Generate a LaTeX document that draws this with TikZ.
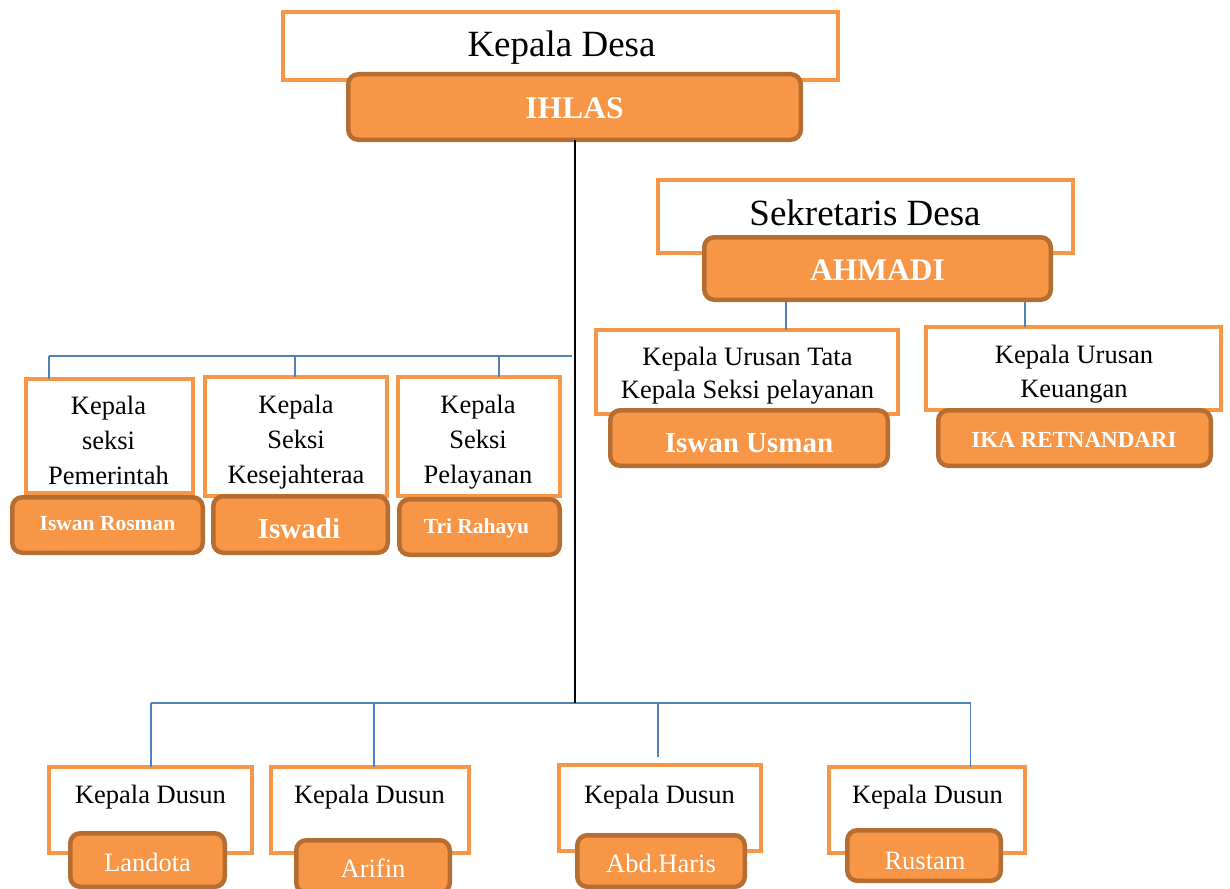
\documentclass[tikz,border=0pt]{standalone}
\usepackage{fontspec}
\setmainfont{Liberation Serif}
\usetikzlibrary{positioning,calc}
\definecolor{oranyemuda}{RGB}{247,150,70}
\definecolor{cokelat}{RGB}{182,109,49}
\definecolor{birugaris}{RGB}{79,129,189}
\newcommand{\ukuran}[2]{\fontsize{#1}{#2}\selectfont}
\newcommand{\jabatan}[4]{\node[kotakjabatan,minimum width=#3pt,minimum height=#4pt] (#1) at (#2) {};}
\newcommand{\pejabat}[4]{\node[kotaknama,minimum width=#3pt,minimum height=#4pt] (#1) at (#2) {};}
\tikzset{
  kotakjabatan/.style={draw=oranyemuda,line width=4pt,fill=white,inner sep=0pt,outer sep=0pt},
  kotaknama/.style={draw=cokelat,line width=4.5pt,fill=oranyemuda,rounded corners=10pt,inner sep=0pt,outer sep=0pt},
  teksjabatan/.style={anchor=base,align=center,text=black,inner sep=0pt},
  teksnama/.style={anchor=base,text=white,inner sep=0pt},
  garisbiru/.style={draw=birugaris,line width=1.3pt},
  garishitam/.style={draw=black,line width=2pt},
}

\begin{document}
\begin{tikzpicture}[x=1pt,y=-1pt]
\clip (0,0) rectangle (1230,888);
% kotak jabatan
\jabatan{kades}{560.5,46}{555}{68}
\jabatan{sekdes}{865.5,216.5}{415}{73}
\jabatan{kaur1}{747,372}{302}{84}
\jabatan{kaur2}{1073.5,368.5}{295}{83}
\jabatan{kasi1}{109.5,436}{167}{114}
\jabatan{kasi2}{296,436.5}{182}{119}
\jabatan{kasi3}{479,436.5}{162}{119}
\jabatan{dusun1}{150.5,810}{203}{86}
\jabatan{dusun2}{370,810}{198}{86}
\jabatan{dusun3}{660,808}{202}{86}
\jabatan{dusun4}{927,810}{196}{86}
% garis
\coordinate (busbawah) at (574.5,703);
\coordinate (bb1) at (151,703);
\coordinate (bb2) at (374,703);
\coordinate (bb3) at (658,703);
\coordinate (bb4) at (970.5,703);
\coordinate (ujung3) at (658,757);
\coordinate (bk0) at (572,356);
\coordinate (bk1) at (49,356);
\coordinate (bk2) at (295,356);
\coordinate (bk3) at (499,356);
\coordinate (sk1) at (786,302);
\coordinate (sk2) at (1025,302);
\draw[garisbiru] (bb1) -- (bb4);
\draw[garisbiru] (bb1) -- (bb1 |- dusun1.north);
\draw[garisbiru] (bb2) -- (bb2 |- dusun2.north);
\draw[garisbiru] (bb3) -- (ujung3);
\draw[garisbiru] (bb4) -- (bb4 |- dusun4.north);
\draw[garisbiru] (bk1) -- (bk0);
\draw[garisbiru] (bk1) -- (bk1 |- kasi1.north);
\draw[garisbiru] (bk2) -- (bk2 |- kasi2.north);
\draw[garisbiru] (bk3) -- (bk3 |- kasi3.north);
\draw[garisbiru] (sk1) -- (sk1 |- kaur1.north);
\draw[garisbiru] (sk2) -- (sk2 |- kaur2.north);
% teks jabatan
\node[teksjabatan,font=\ukuran{37}{44}] (kades-t) at (561.5,57) {Kepala Desa};
\node[teksjabatan,font=\ukuran{37}{44}] (sekdes-t) at (865,225) {Sekretaris Desa};
\node[teksjabatan,font=\ukuran{26.5}{33}] (kaur1-t) at (747.5,398) {Kepala Urusan Tata\\Kepala Seksi pelayanan};
\node[teksjabatan,font=\ukuran{26.5}{34}] (kaur2-t) at (1074,397) {Kepala Urusan\\Keuangan};
\node[teksjabatan,font=\ukuran{26.5}{35}] (kasi1-t) at (108.5,484) {Kepala\\seksi\\Pemerintah};
\node[teksjabatan,font=\ukuran{26.5}{35}] (kasi2-t) at (296,483) {Kepala\\Seksi\\Kesejahteraa};
\node[teksjabatan,font=\ukuran{26.5}{35}] (kasi3-t) at (478,483) {Kepala\\Seksi\\Pelayanan};
\foreach \n/\x in {1/150.5,2/369.5,3/659.5,4/927.5}
  \node[teksjabatan,font=\ukuran{26.5}{32}] (dusun\n-t) at (\x,803) {Kepala Dusun};
% kotak nama
\pejabat{ihlas}{574.5,107}{452.5}{65.5}
\pejabat{ahmadi}{877.5,268.5}{346.5}{62.5}
\pejabat{iswanusman}{749,438}{277.5}{55.5}
\pejabat{ika}{1074.5,438}{272.5}{55.5}
\pejabat{iswanrosman}{107.5,525}{190.5}{55.5}
\pejabat{iswadi}{300.5,524.5}{174.5}{56.5}
\pejabat{trirahayu}{479.5,527}{160.5}{55.5}
\pejabat{landota}{147.5,860}{154.5}{53.5}
\pejabat{arifin}{373,866.5}{153.5}{52.5}
\pejabat{abdharis}{661,861}{167.5}{51.5}
\pejabat{rustam}{924,855.5}{153.5}{50.5}
\draw[garishitam] (ihlas.south) -- (busbawah);
% teks nama
\node[teksnama,font={\ukuran{31.5}{36}\bfseries}] (ihlas-t) at (574.5,118) {IHLAS};
\node[teksnama,font={\ukuran{31.5}{36}\bfseries}] (ahmadi-t) at (877.5,280) {AHMADI};
\node[teksnama,font={\ukuran{29}{34}\bfseries}] (iswanusman-t) at (749,452) {Iswan Usman};
\node[teksnama,font={\ukuran{23}{28}\bfseries}] (ika-t) at (1074,447) {IKA RETNANDARI};
\node[teksnama,font={\ukuran{21.5}{26}\bfseries}] (iswanrosman-t) at (107.5,530) {Iswan Rosman};
\node[teksnama,font={\ukuran{29}{34}\bfseries}] (iswadi-t) at (299,538) {Iswadi};
\node[teksnama,font={\ukuran{21.5}{26}\bfseries}] (trirahayu-t) at (476.5,533) {Tri Rahayu};
\node[teksnama,font=\ukuran{26.5}{32}] (landota-t) at (147.5,871) {Landota};
\node[teksnama,font=\ukuran{26.5}{32}] (arifin-t) at (373,877) {Arifin};
\node[teksnama,font=\ukuran{26.5}{32}] (abdharis-t) at (661,872) {Abd.Haris};
\node[teksnama,font=\ukuran{26.5}{32}] (rustam-t) at (925,869) {Rustam};
\end{tikzpicture}
\end{document}
